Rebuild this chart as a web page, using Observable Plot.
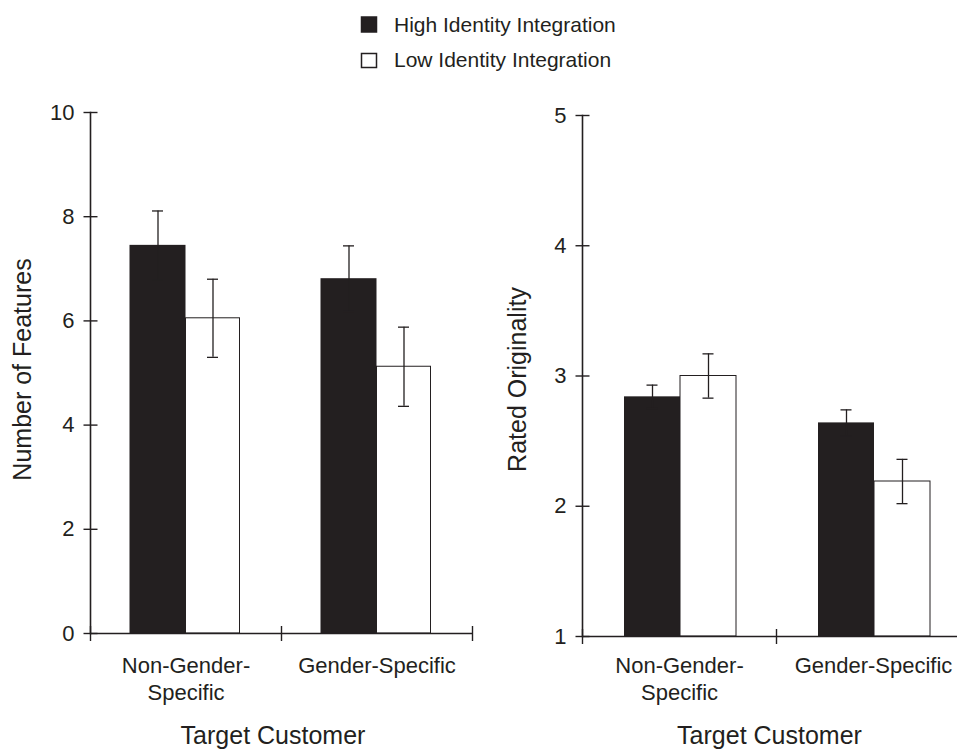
<!DOCTYPE html>
<html><head><meta charset="utf-8">
<script src="https://cdn.jsdelivr.net/npm/d3@7"></script>
<script src="https://cdn.jsdelivr.net/npm/@observablehq/plot@0.6"></script>
<style>
html,body{margin:0;padding:0;background:#fff;}
#wrap{position:relative;width:957px;height:749px;overflow:hidden;font-family:"Liberation Sans",Arial,sans-serif;color:#231f20;background:#fff;}
#legend{position:absolute;left:0;top:0;}
#left{position:absolute;left:0;top:80px;width:480px;}
#right{position:absolute;left:480px;top:80px;width:500px;}
#wrap svg{max-width:none !important;}
</style></head><body>
<div id="wrap"><div id="legend"></div><div id="left"></div><div id="right"></div></div>
<script>
// ---- data ----
const categories = ["Non-Gender-Specific", "Gender-Specific"];
const categoryLabels = ["Non-Gender-\nSpecific", "Gender-Specific"];
const series = ["High Identity Integration", "Low Identity Integration"];
const featuresHigh = [7.45, 6.81];
const featuresHighErr = [0.66, 0.63];
const featuresLow = [6.05, 5.12];
const featuresLowErr = [0.75, 0.76];
const originalityHigh = [2.84, 2.64];
const originalityHighErr = [0.09, 0.10];
const originalityLow = [3.00, 2.19];
const originalityLowErr = [0.17, 0.17];
const featuresTicks = [0, 2, 4, 6, 8, 10];
const originalityTicks = [1, 2, 3, 4, 5];
const featuresTitle = "Number of Features";
const originalityTitle = "Rated Originality";
const xTitle = "Target Customer";

const dark = "#231f20";
const font = "'Liberation Sans', Arial, sans-serif";

// ---- legend ----
const lg = d3.select("#legend").append("svg").attr("width", 957).attr("height", 80)
  .style("font-family", font);
const legendRows = [
  {name: series[0], fill: dark, y: 17, h: 15, base: 31.7},
  {name: series[1], fill: "white", y: 53.5, h: 14, base: 66.5}
];
legendRows.forEach(r => {
  lg.append("rect").attr("x", 361.5).attr("y", r.y).attr("width", 15).attr("height", r.h)
    .attr("fill", r.fill).attr("stroke", dark).attr("stroke-width", 1.5);
  lg.append("text").attr("x", 394).attr("y", r.base).attr("font-size", 21).attr("fill", dark).text(r.name);
});

// ---- panels ----
const hSym = {draw(ctx) { ctx.moveTo(-7, 0); ctx.lineTo(7, 0); }};
const vSym = {draw(ctx) { ctx.moveTo(0, -7.5); ctx.lineTo(0, 7.5); }};

function panel(o) {
  const bw = (o.width - o.ml - o.mr) / categories.length;
  const H = categories.map((c, i) => ({cat: c, v: o.high[i], lo: o.high[i] - o.highErr[i], hi: o.high[i] + o.highErr[i]}));
  const L = categories.map((c, i) => ({cat: c, v: o.low[i], lo: o.low[i] - o.lowErr[i], hi: o.low[i] + o.lowErr[i]}));
  const base = o.ticks[0];
  const capW = 11;
  const errMarks = (D, ins) => {
    const c = ins[0] + ins[1] / 2;
    return [
      Plot.ruleX(D, {x: "cat", y1: "lo", y2: "hi", stroke: dark, strokeWidth: 1.3, dx: c - bw / 2}),
      Plot.tickY(D, {x: "cat", y: "hi", stroke: dark, strokeWidth: 1.3, insetLeft: c - capW / 2, insetRight: bw - c - capW / 2}),
      Plot.tickY(D, {x: "cat", y: "lo", stroke: dark, strokeWidth: 1.3, insetLeft: c - capW / 2, insetRight: bw - c - capW / 2})
    ];
  };
  return Plot.plot({
    width: o.width, height: o.height,
    marginLeft: o.ml, marginRight: o.mr, marginTop: o.mt, marginBottom: o.mb,
    style: {fontFamily: font, color: dark, background: "transparent", overflow: "visible", maxWidth: "none"},
    x: {domain: categories, padding: 0, axis: null},
    y: {domain: [o.ticks[0], o.ticks[o.ticks.length - 1]], axis: null},
    marks: [
      Plot.barY(H, {x: "cat", y1: base, y2: "v", fill: dark, insetLeft: o.hiIns[0], insetRight: bw - o.hiIns[0] - o.hiIns[1]}),
      Plot.barY(L, {x: "cat", y1: base, y2: "v", fill: "white", stroke: dark, strokeWidth: 1, insetLeft: o.loIns[0], insetRight: bw - o.loIns[0] - o.loIns[1]}),
      ...errMarks(H, o.hiIns),
      ...errMarks(L, o.loIns),
      Plot.ruleY([base], {stroke: dark, strokeWidth: 1.6}),
      Plot.frame({anchor: "left", stroke: dark, strokeWidth: 1.6}),
      Plot.dot(o.ticks, {y: d => d, frameAnchor: "left", symbol: hSym, stroke: dark, fill: "none", strokeWidth: 1.4}),
      Plot.dot([base], {frameAnchor: "bottom-left", symbol: vSym, stroke: dark, fill: "none", strokeWidth: 1.4}),
      Plot.dot([base], {frameAnchor: "bottom", symbol: vSym, stroke: dark, fill: "none", strokeWidth: 1.4}),
      Plot.dot([base], {frameAnchor: "bottom-right", symbol: vSym, stroke: dark, fill: "none", strokeWidth: 1.4}),
      Plot.axisY({ticks: o.ticks, tickSize: 0, tickPadding: 16, tickFormat: d => String(d), fontSize: 22, label: null, fill: dark}),
      Plot.text([o.yTitle], {text: d => d, frameAnchor: "left", textAnchor: "middle", rotate: -90, lineAnchor: "top", dx: -o.labelOffset, dy: o.titleDy, fontSize: 25, fill: dark}),
      Plot.text(categories, {x: d => d, text: (d, i) => categoryLabels[i], frameAnchor: "bottom", lineAnchor: "top", lineHeight: 1.2, dy: o.tickDy, fontSize: 22, fill: dark}),
      Plot.text([xTitle], {text: d => d, frameAnchor: "bottom", lineAnchor: "bottom", dy: o.xTitleDy, dx: o.xTitleDx, fontSize: 25, fill: dark})
    ]
  });
}

document.getElementById("left").append(panel({
  high: featuresHigh, highErr: featuresHighErr, low: featuresLow, lowErr: featuresLowErr,
  ticks: featuresTicks, yTitle: featuresTitle,
  width: 480, height: 669, ml: 90, mr: 8, mt: 32, mb: 116,
  hiIns: [39.5, 56], loIns: [95.5, 54],
  labelOffset: 77, titleDy: -3.5, tickDy: 21, xTitleDy: 110, xTitleDx: -8.5
}));
document.getElementById("right").append(panel({
  high: originalityHigh, highErr: originalityHighErr, low: originalityLow, lowErr: originalityLowErr,
  ticks: originalityTicks, yTitle: originalityTitle,
  width: 500, height: 669, ml: 102, mr: 10, mt: 35, mb: 113,
  hiIns: [42, 56], loIns: [98, 56],
  labelOffset: 74, titleDy: 3.5, tickDy: 18, xTitleDy: 107, xTitleDx: -7
}));
</script>
</body></html>
